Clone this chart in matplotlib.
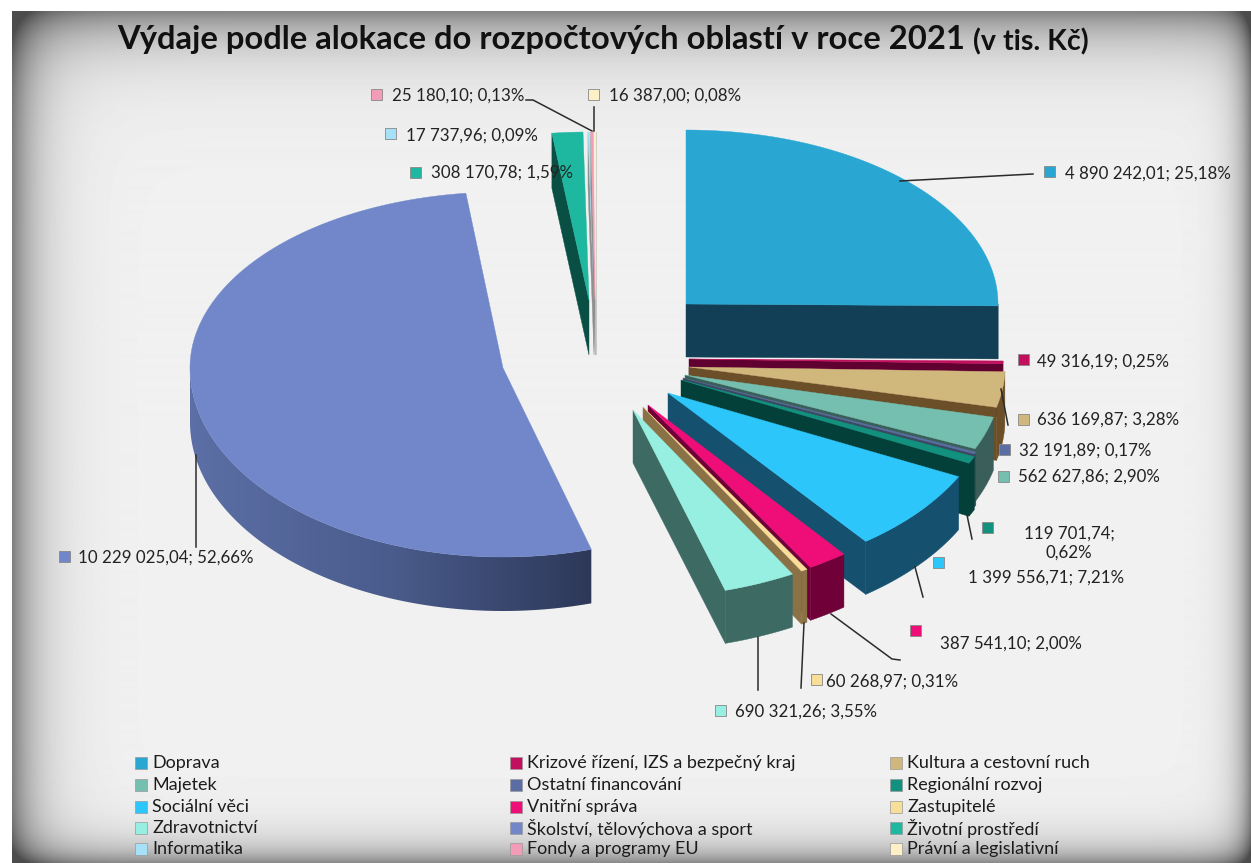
import numpy as np
import matplotlib
matplotlib.use('Agg')
import matplotlib.pyplot as plt
from matplotlib.colors import LinearSegmentedColormap
from matplotlib.patches import Polygon, Rectangle

plt.rcParams['font.family'] = ['Lato', 'DejaVu Sans']

categories = ['Doprava', 'Krizové řízení, IZS a bezpečný kraj', 'Kultura a cestovní ruch',
              'Majetek', 'Ostatní financování', 'Regionální rozvoj',
              'Sociální věci', 'Vnitřní správa', 'Zastupitelé',
              'Zdravotnictví', 'Školství, tělovýchova a sport', 'Životní prostředí',
              'Informatika', 'Fondy a programy EU', 'Právní a legislativní']
values = [4890242.01, 49316.19, 636169.87,
          562627.86, 32191.89, 119701.74,
          1399556.71, 387541.10, 60268.97,
          690321.26, 10229025.04, 308170.78,
          17737.96, 25180.10, 16387.00]

# colours: top of slice, side of slice
top_colors = ['#2aa6d3', '#c2105e', '#d0b77c', '#74bfb0', '#5b6ea3', '#12917f', '#2dc6fb', '#ef0e78',
              '#f7df9a', '#96efe0', '#7187ca', '#1eb8a0', '#a6e1f7', '#f39cb7', '#fdf0c7']
side_colors = ['#123f55', '#5f0030', '#6a4f29', '#3a5f5a', '#3a4a60', '#024039', '#15506f', '#6f0038',
               '#8a7246', '#3e6a64', '#4d5b8c', '#0a4f44', '#8f8f8f', '#8f8f8f', '#8f8f8f']

# exploded layout in pixels: tip x, tip y, rx, ry back, ry front, depth
layout = [(686, 304, 312, 174, 174, 53), (689, 359, 314, 178, 178, 53), (689, 367, 316, 175, 175, 53),
          (685, 375, 317, 183, 183, 53), (683, 378, 320, 184, 184, 53), (681, 380, 322, 186, 186, 53),
          (668, 393, 325, 187, 187, 53), (648, 405, 322, 188, 188, 53), (643, 407, 325, 188, 188, 53),
          (633, 410, 327, 188, 188, 53), (503, 368, 313, 176, 189, 54), (589, 300, 313, 168, 168, 55),
          (594, 300, 313, 168, 168, 55), (595, 300, 313, 168, 168, 55), (596, 300, 313, 168, 168, 55)]

# marker x, marker y, text x, text y of the data labels
label_pos = [(1049, 172, 1065, 174), (1023, 360, 1037, 362), (1023, 419, 1037, 420),
             (1003, 476, 1018, 477), (1004, 449, 1019, 451), (987, 527, 1026, 543),
             (938, 562, 968, 578), (915, 630, 940, 644), (816, 679, 826, 682),
             (720, 710, 735, 712), (64, 556, 78, 558), (415, 173, 431, 173),
             (390, 134, 406, 136), (376, 95, 392, 96), (593, 95, 609, 96)]

leaders = [[(900, 181), (1033, 174)], [(1001, 389), (1008, 425)], [(967, 515), (972, 539)],
           [(915, 567), (923, 597)], [(831, 614), (892, 659), (900, 660)],
           [(804, 623), (801, 688)], [(758, 637), (758, 690)], [(196, 455), (196, 547)],
           [(526, 100), (533, 100), (592, 131)], [(594, 107), (594, 131)]]

legend_x = [141, 516, 896]
legend_y = [763, 785, 807, 828, 849]


def rim(g, t):
    cx, cy, rx, ry_b, ry_f, d = g
    t = np.asarray(t, dtype=float)
    ry = np.where(np.cos(t) > 0, ry_b, ry_f)
    return cx + rx * np.sin(t), cy - ry * np.cos(t)


def label_text(v):
    num = f'{v:,.2f}'.replace(',', ' ').replace('.', ',')
    pct = f'{100 * v / total:.2f}'.replace('.', ',')
    return f'{num}; {pct}%'


W, H = 1251, 863
fig = plt.figure(figsize=(W / 100, H / 100), dpi=100)
ax = fig.add_axes([0, 0, 1, 1])

# background vignette
yy, xx = np.mgrid[0:H, 0:W]
bg = 0.945 - 0.42 * np.exp(-(yy - 12) / 32.0) - 0.45 * np.exp(-(xx - 12) / 26.0)
bg = bg - 0.42 * np.exp(-(H - yy) / 18.0) - 0.45 * np.exp(-(W - xx) / 14.0)
bg = np.clip(bg, 0.3, 1)
bg[yy < 12] = 1
bg[xx < 12] = 1
ax.imshow(bg, cmap='gray', vmin=0, vmax=1, extent=(0, W, H, 0), aspect='auto', zorder=0)

side_cmap = LinearSegmentedColormap.from_list('side', ['#5c6fa6', '#4a5c8c', '#2d3859'])

total = sum(values)
stops = np.concatenate([[0], np.cumsum(values)]) / total * 2 * np.pi

z = 1
for i, g in enumerate(layout):
    t0, t1 = stops[i], stops[i + 1]
    cx, cy, rx, ry_b, ry_f, d = g
    ts = np.linspace(t0, t1, 200)
    xs, ys = rim(g, ts)
    # straight side that faces the viewer
    if np.sin(t1) > 0 or np.sin(t0) < 0:
        t_face = t1 if np.sin(t1) > 0 else t0
        fx, fy = rim(g, t_face)
        ax.add_patch(Polygon([(cx, cy), (fx, fy), (fx, fy + d), (cx, cy + d)], closed=True,
                             facecolor=side_colors[i], edgecolor=side_colors[i], lw=0.3, zorder=z))
    # front of the rim
    a, b = max(t0, np.pi / 2), min(t1, 3 * np.pi / 2)
    if b > a:
        rs = np.linspace(a, b, 150)
        rx_, ry_ = rim(g, rs)
        pts = list(zip(rx_, ry_)) + list(zip(rx_[::-1], ry_[::-1] + d))
        is_big = categories[i].startswith('Školství')
        face = Polygon(pts, closed=True, facecolor=side_colors[i], edgecolor=side_colors[i], lw=0.3, zorder=z)
        ax.add_patch(face)
        if is_big:
            # shaded side goes darker from left to right
            face.set_visible(False)
            grad = np.linspace(0, 1, 256).reshape(1, -1)
            im = ax.imshow(grad, cmap=side_cmap, extent=(rx_.min(), rx_.max(), (ry_ + d).max(), ry_.min()),
                           aspect='auto', zorder=z)
            im.set_clip_path(Polygon(pts, closed=True, transform=ax.transData))
    pts = [(cx, cy)] + list(zip(xs, ys))
    ax.add_patch(Polygon(pts, closed=True, facecolor=top_colors[i], edgecolor=top_colors[i], lw=0.3, zorder=z + 0.5))
    z += 1

ax.set_xlim(0, W)
ax.set_ylim(H, 0)
ax.axis('off')

for line in leaders:
    ax.plot([p[0] for p in line], [p[1] for p in line], color='#2b2b2b', lw=1.1, zorder=40)

# data labels
for i, (mx, my, tx, ty) in enumerate(label_pos):
    ax.add_patch(Rectangle((mx - 5.5, my - 5.5), 11, 11, facecolor=top_colors[i], edgecolor='#888888',
                           lw=0.6, zorder=41))
    s = label_text(values[i])
    if categories[i] == 'Regionální rozvoj':
        s = s.replace('; ', ';\n')
        ax.text(tx + 43, ty, s, ha='center', va='center', fontsize=12.2, color='#222222', zorder=42,
                linespacing=1.2)
    else:
        ax.text(tx, ty, s, ha='left', va='center', fontsize=12.2, color='#222222', zorder=42)

# legend
for i, name in enumerate(categories):
    lx = legend_x[i % 3]
    ly = legend_y[i // 3]
    ax.add_patch(Rectangle((lx - 6, ly - 6), 12, 12, facecolor=top_colors[i], edgecolor='#999999',
                           lw=0.5, zorder=41))
    ax.text(lx + 11, ly, name, ha='left', va='center', fontsize=13, color='#1c1c1c', zorder=42)

ax.text(117, 40, 'Výdaje podle alokace do rozpočtových oblastí v roce 2021', ha='left', va='center',
        fontsize=23.6, fontweight='bold', color='#111111', zorder=42)
ax.text(973, 42, '(v tis. Kč)', ha='left', va='center', fontsize=20.6, fontweight='bold', color='#111111', zorder=42)

fig.savefig('out.png', dpi=100)
